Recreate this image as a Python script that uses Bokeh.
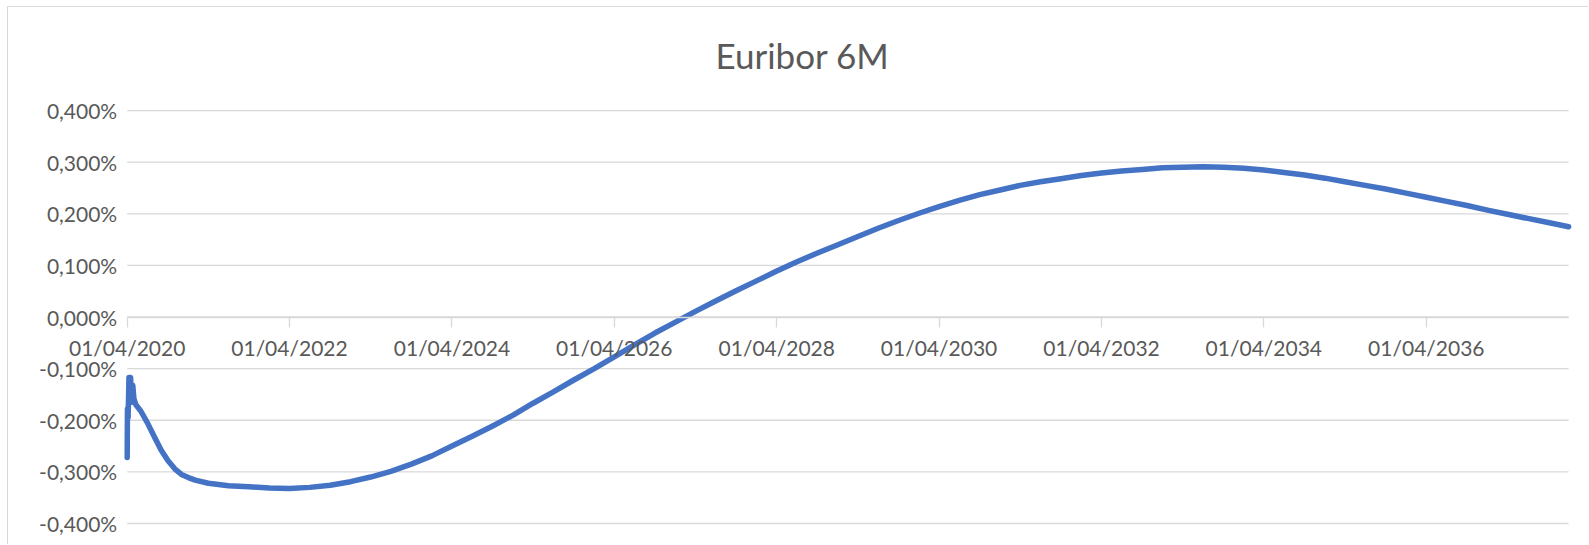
import pandas as pd
from bokeh.plotting import figure
from bokeh.models import (FixedTicker, CustomJSTickFormatter, DatetimeTickFormatter,
                          Range1d, Label)
from bokeh.embed import file_html
from bokeh.resources import INLINE

title_text = "Euribor 6M"

dates = [
    "2020-04-01", "2020-04-02", "2020-04-05", "2020-04-09", "2020-04-16",
    "2020-04-22", "2020-04-26", "2020-05-01", "2020-05-10",
    "2020-06-01", "2020-07-01", "2020-08-01", "2020-09-01", "2020-10-01",
    "2020-11-01", "2020-12-01", "2021-01-01", "2021-02-01", "2021-04-01",
    "2021-07-01", "2021-10-01", "2022-01-01", "2022-04-01", "2022-07-01",
    "2022-10-01", "2023-01-01", "2023-04-01", "2023-07-01", "2023-10-01",
    "2024-01-01", "2024-04-01", "2024-07-01", "2024-10-01", "2025-01-01",
    "2025-04-01", "2025-07-01", "2025-10-01", "2026-01-01", "2026-04-01",
    "2026-07-01", "2026-10-01", "2027-01-01", "2027-04-01", "2027-07-01",
    "2027-10-01", "2028-01-01", "2028-04-01", "2028-07-01", "2028-10-01",
    "2029-01-01", "2029-04-01", "2029-07-01", "2029-10-01", "2030-01-01",
    "2030-04-01", "2030-07-01", "2030-10-01", "2031-01-01", "2031-04-01",
    "2031-07-01", "2031-10-01", "2032-01-01", "2032-04-01", "2032-07-01",
    "2032-10-01", "2033-01-01", "2033-04-01", "2033-07-01", "2033-10-01",
    "2034-01-01", "2034-04-01", "2034-07-01", "2034-10-01", "2035-01-01",
    "2035-04-01", "2035-07-01", "2035-10-01", "2036-01-01", "2036-04-01",
    "2036-07-01", "2036-10-01", "2037-01-01", "2037-04-01", "2037-07-01",
    "2037-10-01", "2038-01-01",
]

rates = [
    -0.272, -0.178, -0.195, -0.117, -0.117,
    -0.165, -0.132, -0.158, -0.170,
    -0.182, -0.205, -0.232, -0.258, -0.278,
    -0.294, -0.305, -0.311, -0.316, -0.322,
    -0.327, -0.329, -0.331, -0.332, -0.330,
    -0.326, -0.319, -0.310, -0.299, -0.285,
    -0.269, -0.250, -0.231, -0.211, -0.190,
    -0.167, -0.145, -0.122, -0.100, -0.077,
    -0.054, -0.031, -0.010, 0.011, 0.031,
    0.051, 0.070, 0.089, 0.107, 0.124,
    0.140, 0.156, 0.172, 0.187, 0.201,
    0.214, 0.226, 0.237, 0.246, 0.255,
    0.262, 0.268, 0.274, 0.279, 0.283,
    0.286, 0.289, 0.290, 0.291, 0.290,
    0.288, 0.285, 0.280, 0.275, 0.269,
    0.262, 0.255, 0.248, 0.240, 0.232,
    0.224, 0.216, 0.207, 0.199, 0.191,
    0.183, 0.175,
]

y_ticks = [-0.4, -0.3, -0.2, -0.1, 0.0, 0.1, 0.2, 0.3, 0.4]
x_tick_dates = ["2020-04-01", "2022-04-01", "2024-04-01", "2026-04-01",
                "2028-04-01", "2030-04-01", "2032-04-01", "2034-04-01",
                "2036-04-01"]
x_tick_labels = ["01/04/2020", "01/04/2022", "01/04/2024", "01/04/2026",
                 "01/04/2028", "01/04/2030", "01/04/2032", "01/04/2034",
                 "01/04/2036"]

x = pd.to_datetime(dates)
x_start = x[0]
x_end = x[-1]

GRID = "#d9d9d9"
TEXT = "#595959"
FONT = "Lato"

# The frame covers the whole canvas; the chart's plot area is drawn inside it.
p = figure(
    width=1581, height=538,
    x_axis_type="datetime",
    output_backend="svg", toolbar_location=None,
    x_range=Range1d(x_start - pd.Timedelta(days=534), x_end + pd.Timedelta(days=94)),
    y_range=Range1d(-0.4426, 0.5996),
    min_border_left=0, min_border_right=0,
    min_border_top=0, min_border_bottom=0,
    background_fill_color="white", border_fill_color="white",
)
p.styles = {"margin-left": "7px", "margin-top": "6px",
            "border-left": "1px solid #d9d9d9", "border-top": "1px solid #d9d9d9"}
p.outline_line_color = None
p.xgrid.visible = False
p.ygrid.visible = False

# horizontal gridlines over the plot area only
p.segment(x0=[x_start] * len(y_ticks), x1=[x_end] * len(y_ticks),
          y0=y_ticks, y1=y_ticks, line_color=GRID, line_width=1.3)

p.line(x, rates, line_width=5.5, line_color="#4472C4", line_join="round", line_cap="round")

# y axis pinned at the first date
p.yaxis.fixed_location = int(x_start.value // 10**6)
p.yaxis.ticker = FixedTicker(ticks=y_ticks)
p.yaxis.formatter = CustomJSTickFormatter(code="""
    let t = Math.abs(tick) < 1e-9 ? 0 : tick;
    return t.toFixed(3).replace('.', ',') + '%';
""")
p.yaxis.axis_line_color = None
p.yaxis.major_tick_line_color = None
p.yaxis.major_tick_out = 0
p.yaxis.major_tick_in = 0
p.yaxis.minor_tick_line_color = None
p.yaxis.major_label_text_font = FONT
p.yaxis.major_label_text_font_size = "21px"
p.yaxis.major_label_text_color = TEXT
p.yaxis.major_label_standoff = 10

# x axis pinned at zero
x_ticks_ms = [int(pd.Timestamp(d).value // 10**6) for d in x_tick_dates]
p.xaxis.fixed_location = 0
p.xaxis.bounds = (x_start, x_end)
p.xaxis.ticker = FixedTicker(ticks=x_ticks_ms)
fmt = "%d/%m/%Y"
p.xaxis.formatter = DatetimeTickFormatter(
    milliseconds=fmt, seconds=fmt, minsec=fmt, minutes=fmt, hourmin=fmt,
    hours=fmt, days=fmt, months=fmt, years=fmt)
p.xaxis.major_label_overrides = dict(zip(x_ticks_ms, x_tick_labels))
p.xaxis.axis_line_color = GRID
p.xaxis.axis_line_width = 1.3
p.xaxis.major_tick_line_color = GRID
p.xaxis.major_tick_line_width = 1.3
p.xaxis.major_tick_out = 10
p.xaxis.major_tick_in = 0
p.xaxis.minor_tick_line_color = None
p.xaxis.major_label_text_font = FONT
p.xaxis.major_label_text_font_size = "21px"
p.xaxis.major_label_text_color = TEXT
p.xaxis.major_label_standoff = 8

p.add_layout(Label(x=794, y=491, x_units="screen", y_units="screen",
                   text=title_text, text_font=FONT, text_font_size="35px",
                   text_color=TEXT, text_align="center", text_baseline="alphabetic"))

open("out.html", "w").write(file_html(p, INLINE))
